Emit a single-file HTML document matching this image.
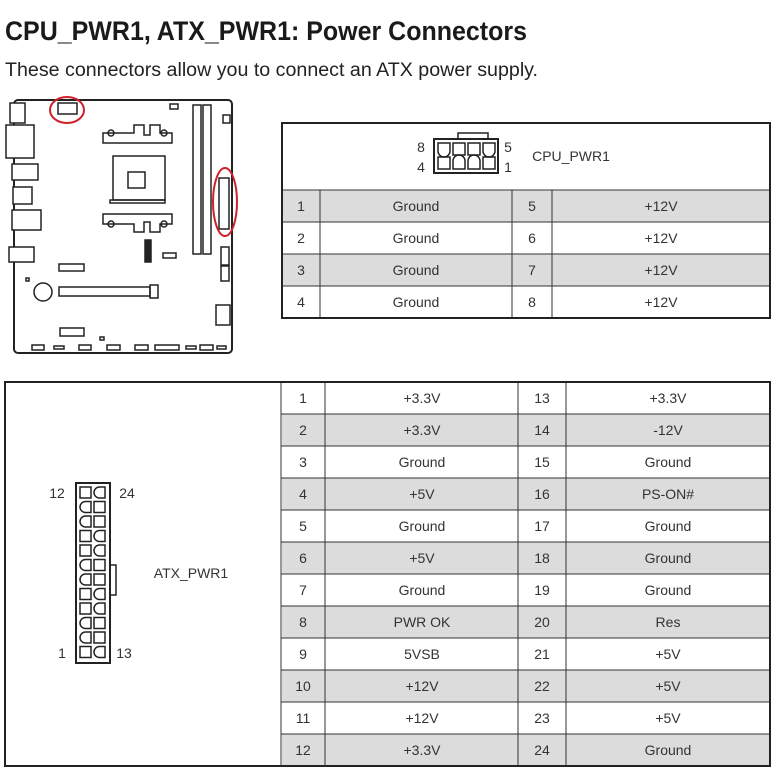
<!DOCTYPE html>
<html><head><meta charset="utf-8"><style>
html,body{margin:0;padding:0;background:#fff;}
svg{display:block;}
text{font-family:"Liberation Sans",sans-serif;}
.t{font-size:14px;fill:#333;text-anchor:middle;}
</style></head><body>
<svg width="771" height="775" viewBox="0 0 771 775" xmlns="http://www.w3.org/2000/svg">
<text x="5" y="40" font-size="27" font-weight="bold" fill="#1a1a1a" textLength="522" lengthAdjust="spacingAndGlyphs">CPU_PWR1, ATX_PWR1: Power Connectors</text>
<text x="5" y="76" font-size="19" fill="#222" textLength="533" lengthAdjust="spacingAndGlyphs">These connectors allow you to connect an ATX power supply.</text>

<!-- Motherboard -->
<g fill="none" stroke="#222" stroke-width="1.5">
<rect x="14" y="100" width="218" height="253" rx="4" stroke-width="2"/>
<rect x="10" y="103" width="15" height="20" fill="#fff"/>
<rect x="6" y="125" width="28" height="33" fill="#fff"/>
<rect x="12" y="164" width="26" height="16" fill="#fff"/>
<rect x="13" y="187" width="19" height="17" fill="#fff"/>
<rect x="12" y="210" width="29" height="20" fill="#fff"/>
<rect x="9" y="247" width="25" height="15" fill="#fff"/>
<rect x="58" y="103" width="19" height="11"/>
<rect x="170" y="104" width="8" height="5"/>
<rect x="223" y="115" width="7" height="8"/>
<path d="M103 133 h31 v-8 h10 v10 h6 v-10 h10 v8 h12 v10 h-69 z"/>
<circle cx="111" cy="133" r="3"/><circle cx="164" cy="133" r="3"/>
<path d="M103 224 h31 v8 h10 v-10 h6 v10 h10 v-8 h12 v-10 h-69 z"/>
<circle cx="111" cy="224" r="3"/><circle cx="164" cy="224" r="3"/>
<rect x="113" y="156" width="52" height="44"/>
<rect x="110" y="200" width="55" height="3"/>
<rect x="128" y="172" width="17" height="16"/>
<rect x="193" y="105" width="8" height="149"/>
<rect x="203" y="105" width="8" height="149"/>
<rect x="219" y="178" width="10" height="51"/>
<rect x="145" y="240" width="6" height="22" fill="#222"/>
<rect x="163" y="253" width="13" height="5"/>
<rect x="221" y="247" width="8" height="18"/>
<rect x="221" y="266" width="8" height="15"/>
<rect x="59" y="264" width="25" height="7"/>
<rect x="26" y="278" width="3" height="3"/>
<circle cx="43" cy="292" r="9"/>
<rect x="59" y="287" width="91" height="9"/>
<rect x="150" y="285" width="8" height="13"/>
<rect x="216" y="305" width="14" height="20"/>
<rect x="60" y="328" width="24" height="8"/>
<rect x="32" y="345" width="12" height="5"/>
<rect x="54" y="346" width="10" height="3"/>
<rect x="79" y="345" width="12" height="5"/>
<rect x="100" y="337" width="4" height="3"/>
<rect x="107" y="345" width="13" height="5"/>
<rect x="135" y="345" width="13" height="5"/>
<rect x="155" y="345" width="24" height="5"/>
<rect x="186" y="346" width="10" height="3"/>
<rect x="200" y="345" width="13" height="5"/>
<rect x="217" y="346" width="9" height="3"/>
</g>
<ellipse cx="67" cy="110" rx="17" ry="13" fill="none" stroke="#d0202a" stroke-width="2"/>
<ellipse cx="225" cy="202" rx="12" ry="34" fill="none" stroke="#d0202a" stroke-width="2"/>

<!-- CPU table -->
<g>
<rect x="283" y="190" width="486" height="32" fill="#dcdcdc"/>
<rect x="283" y="254" width="486" height="32" fill="#dcdcdc"/>
<g stroke="#333" stroke-width="1" fill="none">
<line x1="282" y1="190" x2="770" y2="190"/>
<line x1="282" y1="222" x2="770" y2="222"/>
<line x1="282" y1="254" x2="770" y2="254"/>
<line x1="282" y1="286" x2="770" y2="286"/>
<line x1="320" y1="190" x2="320" y2="318"/>
<line x1="512" y1="190" x2="512" y2="318"/>
<line x1="552" y1="190" x2="552" y2="318"/>
</g>
<rect x="282" y="123" width="488" height="195" fill="none" stroke="#222" stroke-width="2"/>
<g fill="none" stroke="#222" stroke-width="1.5">
<rect x="434" y="139" width="64" height="34" stroke-width="2"/>
<path d="M458 139 v-6 h30 v6"/>
<path d="M438 143 h12 v8 a6 6 0 0 1 -12 0z"/>
<rect x="453" y="143" width="12" height="12"/>
<rect x="468" y="143" width="12" height="12"/>
<path d="M483 143 h12 v8 a6 6 0 0 1 -12 0z"/>
<rect x="438" y="157" width="12" height="12"/>
<path d="M453 169 h12 v-8 a6 6 0 0 0 -12 0z"/>
<path d="M468 169 h12 v-8 a6 6 0 0 0 -12 0z"/>
<rect x="483" y="157" width="12" height="12"/>
</g>
<text class="t" x="421" y="152">8</text><text class="t" x="421" y="172">4</text>
<text class="t" x="508" y="152">5</text><text class="t" x="508" y="172">1</text>
<text class="t" x="571" y="161">CPU_PWR1</text>
<text class="t" x="301" y="211">1</text><text class="t" x="416" y="211">Ground</text><text class="t" x="532" y="211">5</text><text class="t" x="661" y="211">+12V</text>
<text class="t" x="301" y="243">2</text><text class="t" x="416" y="243">Ground</text><text class="t" x="532" y="243">6</text><text class="t" x="661" y="243">+12V</text>
<text class="t" x="301" y="275">3</text><text class="t" x="416" y="275">Ground</text><text class="t" x="532" y="275">7</text><text class="t" x="661" y="275">+12V</text>
<text class="t" x="301" y="307">4</text><text class="t" x="416" y="307">Ground</text><text class="t" x="532" y="307">8</text><text class="t" x="661" y="307">+12V</text>
</g>

<!-- ATX table -->
<g>
<g fill="#dcdcdc">
<rect x="282" y="414" width="487" height="32"/>
<rect x="282" y="478" width="487" height="32"/>
<rect x="282" y="542" width="487" height="32"/>
<rect x="282" y="606" width="487" height="32"/>
<rect x="282" y="670" width="487" height="32"/>
<rect x="282" y="734" width="487" height="32"/>
</g>
<g stroke="#333" stroke-width="1" fill="none">
<line x1="281" y1="414" x2="770" y2="414"/>
<line x1="281" y1="446" x2="770" y2="446"/>
<line x1="281" y1="478" x2="770" y2="478"/>
<line x1="281" y1="510" x2="770" y2="510"/>
<line x1="281" y1="542" x2="770" y2="542"/>
<line x1="281" y1="574" x2="770" y2="574"/>
<line x1="281" y1="606" x2="770" y2="606"/>
<line x1="281" y1="638" x2="770" y2="638"/>
<line x1="281" y1="670" x2="770" y2="670"/>
<line x1="281" y1="702" x2="770" y2="702"/>
<line x1="281" y1="734" x2="770" y2="734"/>
<line x1="281" y1="382" x2="281" y2="766"/>
<line x1="325" y1="382" x2="325" y2="766"/>
<line x1="518" y1="382" x2="518" y2="766"/>
<line x1="566" y1="382" x2="566" y2="766"/>
</g>
<rect x="5" y="382" width="765" height="384" fill="none" stroke="#222" stroke-width="2"/>
<g fill="none" stroke="#222" stroke-width="1.5">
<rect x="76" y="483" width="34" height="180" stroke-width="2"/>
<rect x="110" y="565" width="6" height="30"/>
<!-- row1 y=487 -->
<rect x="80" y="487" width="11" height="11"/><path d="M105 487 h-5.5 a5.5 5.5 0 0 0 0 11 h5.5z"/>
<path d="M91 501.5 h-5.5 a5.5 5.5 0 0 0 0 11 h5.5z"/><rect x="94" y="501.5" width="11" height="11"/>
<path d="M91 516 h-5.5 a5.5 5.5 0 0 0 0 11 h5.5z"/><rect x="94" y="516" width="11" height="11"/>
<rect x="80" y="530.5" width="11" height="11"/><path d="M105 530.5 h-5.5 a5.5 5.5 0 0 0 0 11 h5.5z"/>
<rect x="80" y="545" width="11" height="11"/><path d="M105 545 h-5.5 a5.5 5.5 0 0 0 0 11 h5.5z"/>
<path d="M91 559.5 h-5.5 a5.5 5.5 0 0 0 0 11 h5.5z"/><rect x="94" y="559.5" width="11" height="11"/>
<path d="M91 574 h-5.5 a5.5 5.5 0 0 0 0 11 h5.5z"/><rect x="94" y="574" width="11" height="11"/>
<rect x="80" y="588.5" width="11" height="11"/><path d="M105 588.5 h-5.5 a5.5 5.5 0 0 0 0 11 h5.5z"/>
<rect x="80" y="603" width="11" height="11"/><path d="M105 603 h-5.5 a5.5 5.5 0 0 0 0 11 h5.5z"/>
<path d="M91 617.5 h-5.5 a5.5 5.5 0 0 0 0 11 h5.5z"/><rect x="94" y="617.5" width="11" height="11"/>
<path d="M91 632 h-5.5 a5.5 5.5 0 0 0 0 11 h5.5z"/><rect x="94" y="632" width="11" height="11"/>
<rect x="80" y="646.5" width="11" height="11"/><path d="M105 646.5 h-5.5 a5.5 5.5 0 0 0 0 11 h5.5z"/>
</g>
<text class="t" x="57" y="498">12</text><text class="t" x="127" y="498">24</text>
<text class="t" x="62" y="658">1</text><text class="t" x="124" y="658">13</text>
<text class="t" x="191" y="578">ATX_PWR1</text>
<g>
<text class="t" x="303" y="403">1</text><text class="t" x="422" y="403">+3.3V</text><text class="t" x="542" y="403">13</text><text class="t" x="668" y="403">+3.3V</text>
<text class="t" x="303" y="435">2</text><text class="t" x="422" y="435">+3.3V</text><text class="t" x="542" y="435">14</text><text class="t" x="668" y="435">-12V</text>
<text class="t" x="303" y="467">3</text><text class="t" x="422" y="467">Ground</text><text class="t" x="542" y="467">15</text><text class="t" x="668" y="467">Ground</text>
<text class="t" x="303" y="499">4</text><text class="t" x="422" y="499">+5V</text><text class="t" x="542" y="499">16</text><text class="t" x="668" y="499">PS-ON#</text>
<text class="t" x="303" y="531">5</text><text class="t" x="422" y="531">Ground</text><text class="t" x="542" y="531">17</text><text class="t" x="668" y="531">Ground</text>
<text class="t" x="303" y="563">6</text><text class="t" x="422" y="563">+5V</text><text class="t" x="542" y="563">18</text><text class="t" x="668" y="563">Ground</text>
<text class="t" x="303" y="595">7</text><text class="t" x="422" y="595">Ground</text><text class="t" x="542" y="595">19</text><text class="t" x="668" y="595">Ground</text>
<text class="t" x="303" y="627">8</text><text class="t" x="422" y="627">PWR OK</text><text class="t" x="542" y="627">20</text><text class="t" x="668" y="627">Res</text>
<text class="t" x="303" y="659">9</text><text class="t" x="422" y="659">5VSB</text><text class="t" x="542" y="659">21</text><text class="t" x="668" y="659">+5V</text>
<text class="t" x="303" y="691">10</text><text class="t" x="422" y="691">+12V</text><text class="t" x="542" y="691">22</text><text class="t" x="668" y="691">+5V</text>
<text class="t" x="303" y="723">11</text><text class="t" x="422" y="723">+12V</text><text class="t" x="542" y="723">23</text><text class="t" x="668" y="723">+5V</text>
<text class="t" x="303" y="755">12</text><text class="t" x="422" y="755">+3.3V</text><text class="t" x="542" y="755">24</text><text class="t" x="668" y="755">Ground</text>
</g>
</g>
</svg>
</body></html>
